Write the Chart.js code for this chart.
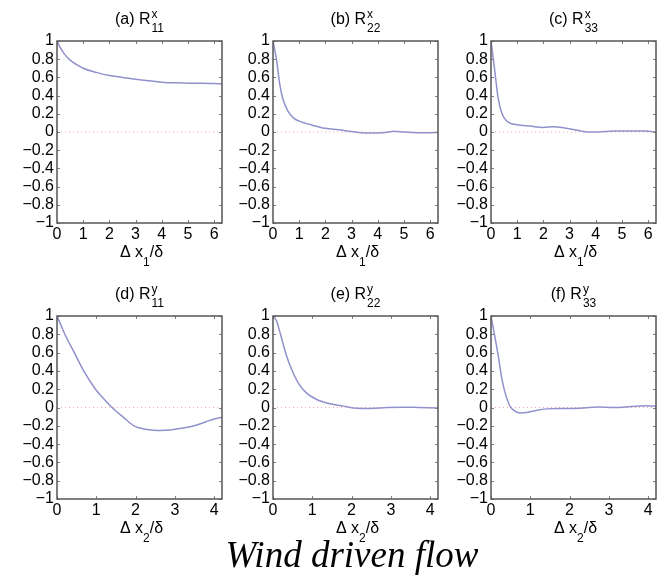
<!DOCTYPE html>
<html>
<head>
<meta charset="utf-8">
<script src="https://cdn.jsdelivr.net/npm/chart.js@4.4.0/dist/chart.umd.min.js"></script>
<style>
  html, body { margin: 0; padding: 0; background: #fff; width: 657px; height: 577px; overflow: hidden; }
  .panel { position: absolute; }
  #caption {
    position: absolute; left: 352px; top: 536px; transform: translateX(-50%);
    font: italic 37px "Liberation Serif", "DejaVu Serif", serif; line-height: 37px;
    white-space: nowrap; color: #000;
  }
</style>
</head>
<body>
<canvas class="panel" id="pa" width="218" height="270" style="left:5px;top:0px"></canvas>
<canvas class="panel" id="pb" width="218" height="270" style="left:221px;top:0px"></canvas>
<canvas class="panel" id="pc" width="218" height="270" style="left:439px;top:0px"></canvas>
<canvas class="panel" id="pd" width="218" height="271" style="left:5px;top:275px"></canvas>
<canvas class="panel" id="pe" width="218" height="271" style="left:221px;top:275px"></canvas>
<canvas class="panel" id="pf" width="218" height="271" style="left:439px;top:275px"></canvas>
<div id="caption">Wind driven flow</div>
<script>
// Streamwise separations (Δx1/δ) and correlations, top row
const lagA = [0, 0.1, 0.25, 0.5, 0.75, 1, 1.5, 2, 2.5, 3, 3.5, 4, 4.5, 5, 5.5, 6, 6.3];
const r11x = [1, 0.94, 0.87, 0.79, 0.74, 0.70, 0.655, 0.62, 0.60, 0.58, 0.563, 0.548, 0.54, 0.537, 0.535, 0.532, 0.53];

const lagB = [0, 0.13, 0.26, 0.38, 0.57, 0.8, 1.0, 1.5, 2.0, 2.5, 3.0, 3.5, 4.0, 4.3, 4.6, 5.0, 5.5, 6.0, 6.3];
const r22x = [1, 0.8, 0.52, 0.36, 0.23, 0.15, 0.12, 0.075, 0.04, 0.025, 0.005, -0.01, -0.01, -0.005, 0.008, 0.0, -0.008, -0.008, -0.003];

const lagC = [0, 0.12, 0.28, 0.41, 0.6, 0.8, 1.0, 1.5, 2.0, 2.4, 2.8, 3.3, 3.7, 4.1, 4.7, 5.4, 5.9, 6.3];
const r33x = [1, 0.73, 0.36, 0.21, 0.12, 0.09, 0.08, 0.065, 0.05, 0.058, 0.045, 0.02, 0.0, 0.0, 0.01, 0.01, 0.01, 0.0];

// Wall-normal separations (Δx2/δ) and correlations, bottom row
const lagD = [0, 0.1, 0.2, 0.44, 0.68, 0.98, 1.2, 1.4, 1.7, 1.96, 2.3, 2.6, 2.9, 3.2, 3.49, 3.8, 4.0, 4.2];
const r11y = [1, 0.9, 0.8, 0.6, 0.4, 0.2, 0.09, 0, -0.11, -0.2, -0.24, -0.25, -0.245, -0.225, -0.2, -0.155, -0.125, -0.105];

const lagE = [0, 0.085, 0.21, 0.34, 0.47, 0.64, 0.85, 1.1, 1.45, 1.8, 2.13, 2.47, 2.9, 3.3, 3.7, 4.2];
const r22y = [1, 0.95, 0.77, 0.57, 0.42, 0.27, 0.16, 0.09, 0.04, 0.015, -0.008, -0.01, 0, 0.004, 0, -0.005];

const lagF = [0, 0.1, 0.19, 0.27, 0.36, 0.49, 0.61, 0.74, 0.91, 1.17, 1.42, 1.68, 2.02, 2.36, 2.7, 3.13, 3.56, 3.9, 4.2];
const r33y = [1, 0.77, 0.55, 0.33, 0.16, 0.01, -0.04, -0.06, -0.055, -0.03, -0.015, -0.01, -0.01, -0.005, 0.005, 0, 0.01, 0.02, 0.015];

// Panel labels
const panelLetters = ['a', 'b', 'c', 'd', 'e', 'f'];
const panelSup = ['x', 'x', 'x', 'y', 'y', 'y'];
const panelSub = ['11', '22', '33', '11', '22', '33'];
const axisSub = ['1', '1', '1', '2', '2', '2'];
const xLimits = [6.3, 6.3, 6.3, 4.2, 4.2, 4.2];

const FONT = '"Liberation Sans", Arial, Helvetica, sans-serif';
Chart.defaults.font.family = FONT;
Chart.defaults.font.size = 16;
Chart.defaults.color = '#000';

function fmtTick(v) {
  const r = Math.round(v * 10) / 10;
  return (r < 0 ? '\u2212' : '') + String(Math.abs(r));
}

const panelDecor = {
  id: 'panelDecor',
  afterDraw(chart, args, o) {
    const { ctx, chartArea: a, scales: { x, y } } = chart;
    ctx.save();
    // tick marks pointing inward on all four sides
    ctx.strokeStyle = '#808080';
    ctx.lineWidth = 1;
    ctx.beginPath();
    x.ticks.forEach(t => {
      const px = Math.round(x.getPixelForValue(t.value)) + 0.5;
      ctx.moveTo(px, a.bottom); ctx.lineTo(px, a.bottom - 3);
      ctx.moveTo(px, a.top); ctx.lineTo(px, a.top + 3);
    });
    y.ticks.forEach(t => {
      const py = Math.round(y.getPixelForValue(t.value)) + 0.5;
      ctx.moveTo(a.left, py); ctx.lineTo(a.left + 3, py);
      ctx.moveTo(a.right, py); ctx.lineTo(a.right - 3, py);
    });
    ctx.stroke();
    // axes box
    ctx.strokeStyle = '#555';
    ctx.lineWidth = 1.5;
    ctx.strokeRect(a.left, a.top, a.width, a.height);

    ctx.fillStyle = '#000';
    ctx.textBaseline = 'alphabetic';
    ctx.textAlign = 'left';
    const cx = (a.left + a.right) / 2;

    // panel title: (a) R with superscript and subscript
    const main = '(' + o.letter + ') R';
    ctx.font = '16px ' + FONT;
    const wMain = ctx.measureText(main).width;
    ctx.font = '12px ' + FONT;
    const wSup = ctx.measureText(o.sup).width;
    const wSub = ctx.measureText(o.sub).width;
    const wTot = wMain + 1 + Math.max(wSup, wSub);
    const tx = cx - wTot / 2;
    const tb = a.top - 17;
    ctx.font = '16px ' + FONT;
    ctx.fillText(main, tx, tb);
    ctx.font = '12px ' + FONT;
    ctx.fillText(o.sup, tx + wMain + 1, tb - 6.5);
    ctx.fillText(o.sub, tx + wMain + 1, tb + 7.5);

    // axis label: Δ x_n/δ
    const p1 = '\u0394 x', p2 = '/\u03B4';
    ctx.font = '16px ' + FONT;
    const w1 = ctx.measureText(p1).width, w2 = ctx.measureText(p2).width;
    ctx.font = '12px ' + FONT;
    const ws = ctx.measureText(o.axSub).width;
    const lx = cx - (w1 + ws + w2) / 2 + 2;
    const lb = a.bottom + 34;
    ctx.font = '16px ' + FONT;
    ctx.fillText(p1, lx, lb);
    ctx.fillText(p2, lx + w1 + ws, lb);
    ctx.font = '12px ' + FONT;
    ctx.fillText(o.axSub, lx + w1, lb + 9);
    ctx.restore();
  }
};

function makePanel(id, idx, lags, vals) {
  const xMax = xLimits[idx];
  new Chart(document.getElementById(id), {
    type: 'line',
    data: {
      datasets: [
        {
          data: lags.map((v, i) => ({ x: v, y: vals[i] })),
          borderColor: 'rgb(145,145,205)',
          borderWidth: 1.5,
          pointRadius: 0,
          cubicInterpolationMode: 'monotone',
          fill: false
        },
        {
          data: [{ x: 0, y: 0 }, { x: xMax, y: 0 }],
          borderColor: 'rgba(240,140,150,0.8)',
          borderWidth: 1,
          borderDash: [1, 3],
          pointRadius: 0,
          fill: false
        }
      ]
    },
    options: {
      responsive: false,
      animation: false,
      events: [],
      layout: { padding: { left: 0, right: 1, top: 41, bottom: 0 } },
      plugins: {
        legend: { display: false },
        tooltip: { enabled: false },
        panelDecor: { letter: panelLetters[idx], sup: panelSup[idx], sub: panelSub[idx], axSub: axisSub[idx] }
      },
      scales: {
        x: {
          type: 'linear', min: 0, max: xMax,
          grid: { display: false, drawTicks: false },
          border: { display: false },
          ticks: { stepSize: 1, includeBounds: false, autoSkip: false, maxRotation: 0, padding: 2,
                   callback: v => fmtTick(v) },
          afterFit: s => { s.height = 47; }
        },
        y: {
          type: 'linear', min: -1, max: 1,
          grid: { display: false, drawTicks: false },
          border: { display: false },
          ticks: { stepSize: 0.2, autoSkip: false, padding: 3, callback: v => fmtTick(v) },
          afterFit: s => { s.width = 52; }
        }
      }
    },
    plugins: [panelDecor]
  });
}

makePanel('pa', 0, lagA, r11x);
makePanel('pb', 1, lagB, r22x);
makePanel('pc', 2, lagC, r33x);
makePanel('pd', 3, lagD, r11y);
makePanel('pe', 4, lagE, r22y);
makePanel('pf', 5, lagF, r33y);
</script>
</body>
</html>
